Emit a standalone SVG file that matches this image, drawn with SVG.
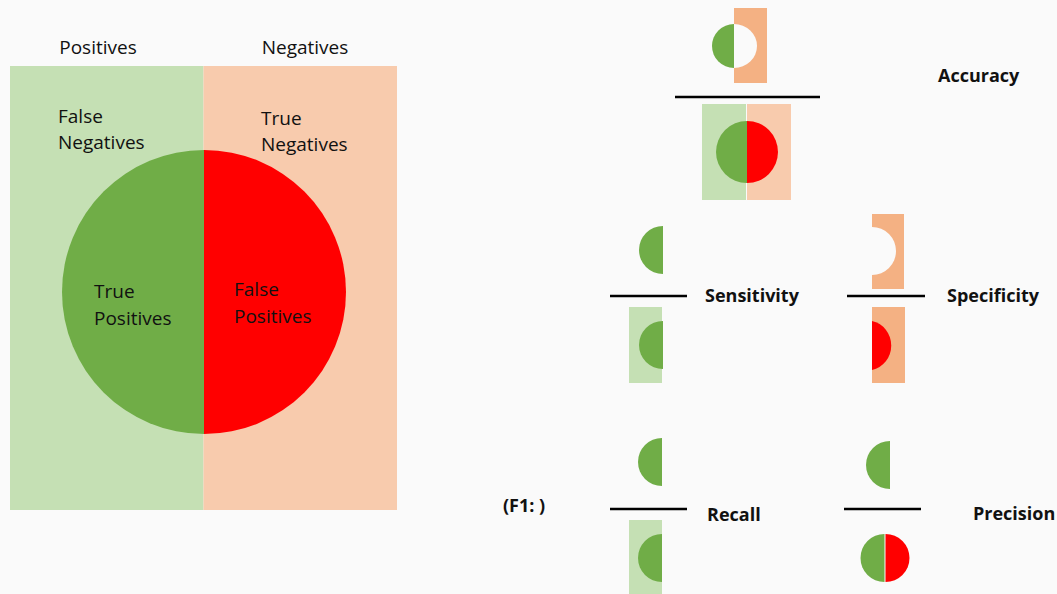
<svg xmlns="http://www.w3.org/2000/svg" width="1057" height="594" viewBox="0 0 1057 594">
<style>
.t{font-family:"Open Sans","Noto Sans","Liberation Sans",sans-serif;font-size:19px;fill:#111}
.b{font-family:"Open Sans","Noto Sans","Liberation Sans",sans-serif;font-size:18px;font-weight:bold;fill:#111}
.lg{fill:#c5e0b4}.lo{fill:#f8cbad}.do{fill:#f4b183}.g{fill:#70ad47}.r{fill:#ff0000}.w{fill:#fafafa}
.ln{stroke:#000;stroke-width:2.5}
</style>
<rect width="1057" height="594" fill="#fafafa"/>
<g id="venn">
<rect class="lg" x="10" y="66" width="193.5" height="444"/>
<rect class="lo" x="203.5" y="66" width="193.5" height="444"/>
<path class="g" d="M204,150 A142,142 0 0 0 204,434 Z"/>
<path class="r" d="M204,150 A142,142 0 0 1 204,434 Z"/>
<text class="t" x="98" y="54" text-anchor="middle">Positives</text>
<text class="t" x="305" y="54" text-anchor="middle">Negatives</text>
<text class="t" x="58" y="123">False</text>
<text class="t" x="58" y="149">Negatives</text>
<text class="t" x="261" y="125">True</text>
<text class="t" x="261" y="151">Negatives</text>
<text class="t" x="94" y="298">True</text>
<text class="t" x="94" y="325">Positives</text>
<text class="t" x="234" y="296">False</text>
<text class="t" x="234" y="323">Positives</text>
</g>
<g id="accuracy">
<rect class="do" x="734" y="8" width="33" height="75"/>
<path class="g" d="M734,24 A22,22 0 0 0 734,68 Z"/>
<path class="w" d="M734,24 A23,22 0 0 1 734,68 Z"/>
<line class="ln" x1="675" y1="97" x2="820" y2="97"/>
<rect class="lg" x="702" y="104" width="44" height="96"/>
<rect class="lo" x="747" y="104" width="44" height="96"/>
<path class="g" d="M747,121 A31,31 0 0 0 747,183 Z"/>
<path class="r" d="M747,121 A31,31 0 0 1 747,183 Z"/>
<text class="b" x="938" y="82">Accuracy</text>
</g>
<g id="sensitivity">
<path class="g" d="M663,226 A24,24 0 0 0 663,274 Z"/>
<line class="ln" x1="610" y1="296" x2="687" y2="296"/>
<rect class="lg" x="629" y="307" width="33" height="76"/>
<path class="g" d="M663,321 A24,24 0 0 0 663,369 Z"/>
<text class="b" x="705" y="302">Sensitivity</text>
</g>
<g id="specificity">
<rect class="do" x="872" y="214" width="32" height="75"/>
<path class="w" d="M872,227 A24,24 0 0 1 872,275 Z"/>
<line class="ln" x1="847" y1="296" x2="925" y2="296"/>
<rect class="do" x="872" y="307" width="33" height="76"/>
<path class="r" d="M872,321 A24,25 0 0 1 872,370 Z"/>
<text class="b" x="947" y="302">Specificity</text>
</g>
<g id="recall">
<text class="b" x="503" y="512">(F1: )</text>
<path class="g" d="M662,438 A24,24 0 0 0 662,486 Z"/>
<line class="ln" x1="610" y1="509" x2="687" y2="509"/>
<rect class="lg" x="629" y="520" width="33" height="74"/>
<path class="g" d="M662,534 A24,24 0 0 0 662,582 Z"/>
<text class="b" x="707" y="521">Recall</text>
</g>
<g id="precision">
<path class="g" d="M890,441 A24,24 0 0 0 890,489 Z"/>
<line class="ln" x1="844" y1="509" x2="921" y2="509"/>
<path class="g" d="M884.5,534 A24,24 0 0 0 884.5,582 Z"/>
<path class="r" d="M885.5,534 A24,24 0 0 1 885.5,582 Z"/>
<text class="b" x="973" y="520">Precision</text>
</g>
<g id="connectors"></g>
</svg>
